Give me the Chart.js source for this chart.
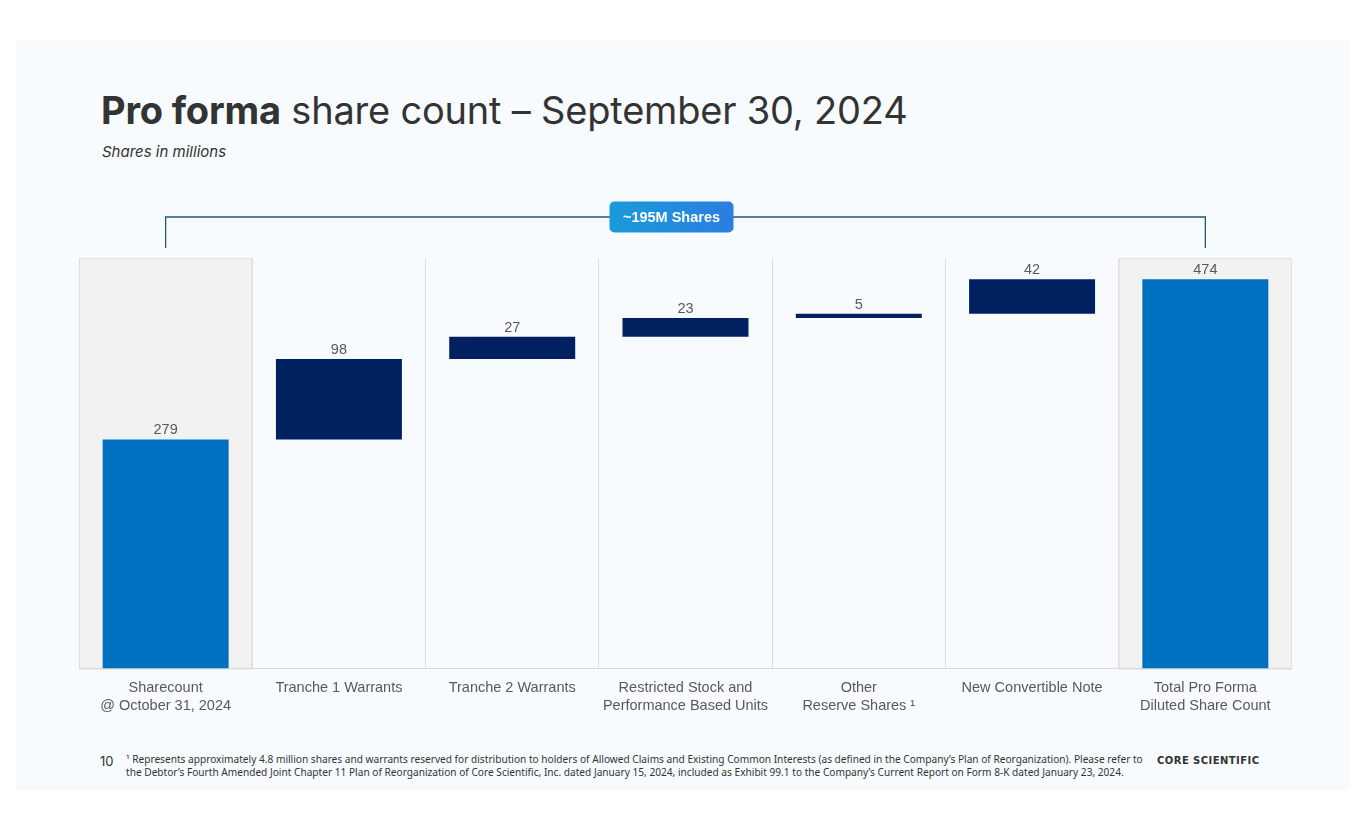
<!DOCTYPE html>
<html>
<head>
<meta charset="utf-8">
<script src="https://cdn.jsdelivr.net/npm/chart.js@4.4.1/dist/chart.umd.min.js"></script>
<style>
  body { margin: 0; width: 1365px; height: 829px; background: #fff; position: relative; overflow: hidden; font-family: Inter, "Liberation Sans", sans-serif; }
  #slide { position: absolute; left: 16px; top: 40px; width: 1333px; height: 750px; background: #f7fbfe; }
  #title { position: absolute; left: 101px; top: 87px; font-size: 38px; color: #333; white-space: nowrap; letter-spacing: -0.2px; }
  #title b { font-weight: 700; }
  #subtitle { position: absolute; left: 102px; top: 142px; font-size: 15px; font-style: italic; color: #333; }
  #chartBox { position: absolute; left: 79px; top: 190px; width: 1213px; height: 536px; }
  #pageNum { position: absolute; left: 100px; top: 753px; font-size: 13px; color: #333; }
  #note { position: absolute; left: 126px; top: 753px; font-family: "Noto Sans", sans-serif; font-size: 10.15px; line-height: 13px; color: #333; white-space: nowrap; }
  #logo { position: absolute; left: 1157px; top: 755px; font-family: "DejaVu Sans", sans-serif; font-weight: 700; font-size: 10px; color: #333; letter-spacing: 0.45px; white-space: nowrap; }
</style>
</head>
<body>
<div id="slide"></div>
<div id="title"><b>Pro forma</b> share count – September 30, 2024</div>
<div id="subtitle">Shares in millions</div>
<div id="chartBox"><canvas id="shareChart"></canvas></div>
<div id="pageNum">10</div>
<div id="note">¹ Represents approximately 4.8 million shares and warrants reserved for distribution to holders of Allowed Claims and Existing Common Interests (as defined in the Company’s Plan of Reorganization). Please refer to<br>the Debtor’s Fourth Amended Joint Chapter 11 Plan of Reorganization of Core Scientific, Inc. dated January 15, 2024, included as Exhibit 99.1 to the Company’s Current Report on Form 8-K dated January 23, 2024.</div>
<div id="logo">CORE SCIENTIFIC</div>
<script>
// chart data
const categories = [
    ["Sharecount", "@ October 31, 2024"],
    "Tranche 1 Warrants",
    "Tranche 2 Warrants",
    ["Restricted Stock and", "Performance Based Units"],
    ["Other", "Reserve Shares ¹"],
    "New Convertible Note",
    ["Total Pro Forma", "Diluted Share Count"]
];
const shareValues = [279, 98, 27, 23, 5, 42, 474];
const barKinds = ['total', 'step', 'step', 'step', 'step', 'step', 'total'];
const bracketLabel = '~195M Shares';
const yMax = 500;

// floating ranges for the waterfall
let running = 0;
const ranges = shareValues.map((v, i) => {
    if (barKinds[i] === 'total') {
        running = v;
        return [0, v];
    }
    const r = [running, running + v];
    running += v;
    return r;
});
const barColors = barKinds.map(k => k === 'total' ? '#0070c0' : '#002060');

const shadePlugin = {
    id: 'shadeTotals',
    beforeDraw(chart) {
        const { ctx, chartArea } = chart;
        const xs = chart.scales.x;
        const cw = xs.width / categories.length;
        ctx.save();
        barKinds.forEach((k, i) => {
            if (k !== 'total') return;
            const x0 = xs.getPixelForValue(i) - cw / 2;
            ctx.fillStyle = '#f2f2f2';
            ctx.fillRect(x0, chartArea.top, cw, chartArea.bottom - chartArea.top);
            ctx.strokeStyle = '#e2e2e2';
            ctx.lineWidth = 1;
            ctx.strokeRect(x0 + 0.5, chartArea.top + 0.5, cw - 1, chartArea.bottom - chartArea.top);
        });
        ctx.restore();
    }
};

const valueLabelPlugin = {
    id: 'valueLabels',
    afterDatasetsDraw(chart) {
        const { ctx } = chart;
        const meta = chart.getDatasetMeta(0);
        ctx.save();
        ctx.fillStyle = '#595959';
        ctx.font = '14.5px "Liberation Sans", Arial, sans-serif';
        ctx.textAlign = 'center';
        ctx.textBaseline = 'bottom';
        meta.data.forEach((bar, i) => {
            const top = Math.min(bar.y, bar.base);
            ctx.fillText(String(shareValues[i]), bar.x, top - 2);
        });
        ctx.restore();
    }
};

const bracketPlugin = {
    id: 'bracket',
    afterDraw(chart) {
        const { ctx, chartArea } = chart;
        const xs = chart.scales.x;
        const x1 = xs.getPixelForValue(0);
        const x2 = xs.getPixelForValue(categories.length - 1);
        const yLine = chartArea.top - 41;
        const yEnd = chartArea.top - 10;
        ctx.save();
        ctx.strokeStyle = '#1f5876';
        ctx.lineWidth = 1.3;
        ctx.beginPath();
        ctx.moveTo(x1, yEnd);
        ctx.lineTo(x1, yLine);
        ctx.lineTo(x2, yLine);
        ctx.lineTo(x2, yEnd);
        ctx.stroke();

        const bw = 124, bh = 31;
        const bx = (x1 + x2) / 2 - 14 - bw / 2;
        const by = yLine - bh / 2;
        const grad = ctx.createLinearGradient(bx, 0, bx + bw, 0);
        grad.addColorStop(0, '#1a9bda');
        grad.addColorStop(1, '#2b7ee2');
        ctx.fillStyle = grad;
        ctx.beginPath();
        ctx.roundRect(bx, by, bw, bh, 5);
        ctx.fill();
        ctx.fillStyle = '#ffffff';
        ctx.font = 'bold 14.5px "Liberation Sans", Arial, sans-serif';
        ctx.textAlign = 'center';
        ctx.textBaseline = 'middle';
        ctx.fillText(bracketLabel, bx + bw / 2, by + bh / 2 + 1);
        ctx.restore();
    }
};

new Chart(document.getElementById('shareChart'), {
    type: 'bar',
    data: {
        labels: categories,
        datasets: [{
            data: ranges,
            backgroundColor: barColors,
            borderWidth: 0,
            borderSkipped: false,
            categoryPercentage: 1,
            barPercentage: 0.727
        }]
    },
    options: {
        responsive: true,
        maintainAspectRatio: false,
        animation: false,
        layout: { padding: { top: 68, bottom: 0, left: 0, right: 0 } },
        plugins: { legend: { display: false }, tooltip: { enabled: false } },
        scales: {
            x: {
                grid: { offset: true, drawTicks: false, color: '#dcdee0' },
                border: { color: '#d9d9d9' },
                ticks: {
                    color: '#595959',
                    font: { family: '"Liberation Sans", Arial, sans-serif', size: 14.5, lineHeight: 1.22 },
                    padding: 11,
                    maxRotation: 0,
                    autoSkip: false
                }
            },
            y: { display: false, min: 0, max: yMax }
        }
    },
    plugins: [shadePlugin, valueLabelPlugin, bracketPlugin]
});
</script>
</body>
</html>
